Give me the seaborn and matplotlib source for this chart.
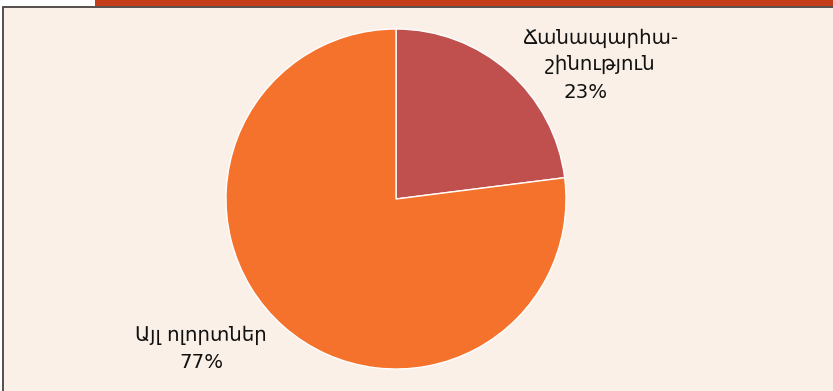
import matplotlib
matplotlib.use("Agg")
import matplotlib.pyplot as plt
from matplotlib.patches import Rectangle
import seaborn as sns

sns.set_theme(style="white")
plt.rcParams["font.family"] = ["DejaVu Sans"]

sectors = ["Ճանապարհա-\nշինություն", "Այլ ոլորտներ"]
shares = [23, 77]
colors = ["#C0504D", "#F4722B"]

W, H = 833, 391
fig = plt.figure(figsize=(W / 100, H / 100), dpi=100, facecolor="white")
ax = fig.add_axes([0, 0, 1, 1])
ax.set_xlim(0, W)
ax.set_ylim(0, H)
ax.set_aspect("equal")
ax.axis("off")

# panel background and header strip
ax.add_patch(Rectangle((3.5, -5), W, H - 6.5 + 5, facecolor="#FAF0E7",
                       edgecolor="#4a4040", linewidth=1.3, zorder=0))
ax.add_patch(Rectangle((95, H - 6), W - 95, 6, facecolor="#C33D1B",
                       edgecolor="none", zorder=1))

cx, cy, r = 396, H - 199, 170
ax.pie(shares, colors=colors, startangle=90, counterclock=False,
       center=(cx, cy), radius=r, frame=True,
       wedgeprops=dict(edgecolor="white", linewidth=1.0))
ax.set_xlim(0, W)
ax.set_ylim(0, H)
ax.axis("off")

fs = 14.2
ax.text(600, H - 51, sectors[0], ha="center", va="center", fontsize=fs,
        color="#111111", linespacing=1.45)
ax.text(586, H - 92, f"{shares[0]}%", ha="center", va="center", fontsize=fs,
        color="#111111")
ax.text(201, H - 335, sectors[1], ha="center", va="center", fontsize=fs,
        color="#111111")
ax.text(201, H - 362, f"{shares[1]}%", ha="center", va="center", fontsize=fs,
        color="#111111")

fig.savefig("out.png", dpi=100, facecolor="white")
